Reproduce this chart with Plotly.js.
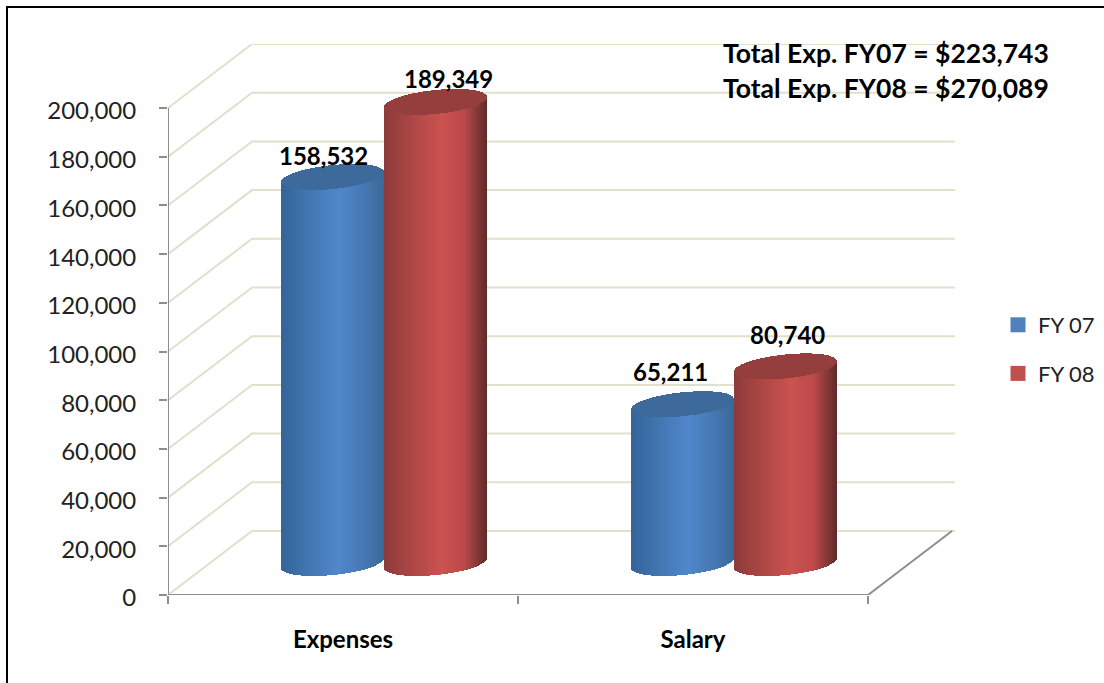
<!DOCTYPE html>
<html>
<head>
<meta charset="utf-8">
<script src="https://cdn.plot.ly/plotly-3.0.1.min.js"></script>
<style>
html,body{margin:0;padding:0;background:#fff;width:1104px;height:683px;overflow:hidden}
#frame{position:absolute;left:6px;top:6px;right:0;bottom:0;border-left:2.5px solid #000;border-top:2.5px solid #000}
#chart{position:absolute;left:0;top:0;width:1104px;height:683px}
</style>
</head>
<body>
<div id="frame"></div>
<div id="chart"></div>
<script>
var categories = ['Expenses', 'Salary'];
var seriesNames = ['FY 07', 'FY 08'];
var fy07 = [158532, 65211];
var fy08 = [189349, 80740];
var yTicks = [0, 20000, 40000, 60000, 80000, 100000, 120000, 140000, 160000, 180000, 200000];
var notes = ['Total Exp. FY07 = $223,743', 'Total Exp. FY08 = $270,089'];

var W = 1104, H = 683;
var M = {l: 168, r: 149, t: 44, b: 88, autoexpand: false};
var pxX = 350;                    // pixels per category
var pxY = 487 / 200000;           // pixels per unit of value
var yMax = (H - M.t - M.b) / pxY;
var xMax = (W - M.l - M.r) / pxX;
var depthX = 84 / pxX, depthY = 64 / pxY;
var halfW = 51.5 / pxX, capB = 12 / pxY, capT = 5 / pxY, centreNudge = -0.7 / pxX;
var FONT = 'Lato, "Open Sans", sans-serif';
var GRID = '#e2dfcb', AXIS = '#8e8e8e';

var palette = {
  blue: {stops: [[-1,[52,100,152]],[-0.5,[64,117,176]],[0.1,[80,135,204]],[0.6,[70,120,180]],[1,[58,104,152]]], cap: '#3d6a9b', key: '#4f81bd'},
  red:  {stops: [[-1,[140,58,58]],[-0.5,[170,70,68]],[0.1,[203,82,80]],[0.55,[188,74,73]],[1,[94,42,42]]], cap: '#943f3d', key: '#c0504d'}
};
function shade(stops, u) {
  for (var i = 1; i < stops.length; i++) {
    if (u <= stops[i][0]) {
      var a = stops[i-1], b = stops[i], f = (u - a[0]) / (b[0] - a[0]);
      return 'rgb(' + [0,1,2].map(function (k) { return Math.round(a[1][k] + (b[1][k] - a[1][k]) * f); }).join(',') + ')';
    }
  }
  return 'rgb(' + stops[stops.length-1][1].join(',') + ')';
}

// Each cylinder is a fan of thin bars: body slices and cap slices, all computed from the value.
function cylinder(catIndex, side, value, pal) {
  var N = 104, cx = catIndex + 0.5 + depthX / 2 + centreNudge + side * halfW;
  var mid = depthY / 2;
  var xs = [], base = [], top = [], col = [], cBase = [], cTop = [], w = 2 * halfW / N * 1.25;
  for (var i = 0; i < N; i++) {
    var u = (i + 0.5) / N * 2 - 1, r = Math.sqrt(1 - u * u), tilt = capT * u;
    xs.push(cx + u * halfW);
    var low = mid + tilt - capB * r;
    var capLow = value + mid + tilt - capB * r;
    var capHigh = value + mid + tilt + capB * r;
    base.push(low); top.push(capLow - low); col.push(shade(pal.stops, u));
    cBase.push(capLow); cTop.push(capHigh - capLow);
  }
  var common = {type: 'bar', x: xs, width: w, xaxis: 'x2', yaxis: 'y2', showlegend: false, hoverinfo: 'skip'};
  return [
    Object.assign({}, common, {base: base, y: top, marker: {color: col, line: {width: 0}}}),
    Object.assign({}, common, {base: cBase, y: cTop, marker: {color: pal.cap, line: {width: 0}}})
  ];
}

var traces = [];

// walls: one trace per gridline, running from the axis back along the side wall and across the back
yTicks.forEach(function (v) {
  traces.push({type: 'scatter', mode: 'lines', x: [0, depthX, xMax], y: [v, v + depthY, v + depthY],
    line: {color: GRID, width: 2}, cliponaxis: false, showlegend: false, hoverinfo: 'skip'});
});
// axis lines
traces.push({type: 'scatter', mode: 'lines', x: [0, 0], y: [0, 200000],
  line: {color: AXIS, width: 2}, cliponaxis: false, showlegend: false, hoverinfo: 'skip'});
traces.push({type: 'scatter', mode: 'lines', x: [0, 2, 2 + depthX], y: [0, 0, depthY],
  line: {color: AXIS, width: 2}, cliponaxis: false, showlegend: false, hoverinfo: 'skip'});

categories.forEach(function (c, i) {
  traces = traces.concat(cylinder(i, -1, fy07[i], palette.blue));
  traces = traces.concat(cylinder(i, 1, fy08[i], palette.red));
});

// legend keys
seriesNames.forEach(function (n, i) {
  traces.push({type: 'scatter', mode: 'markers', x: [null], y: [null], name: n, legendgroup: n,
    marker: {symbol: 'square', size: 15, color: i ? palette.red.key : palette.blue.key, line: {width: 0}}});
});

// value labels sit where they were placed by hand in the original, slightly off the bar centres
var labelShiftX = [[-10, 12], [-13, 1]];
var labelShiftY = [[21, 23], [33, 32]];
var annotations = [];
categories.forEach(function (c, i) {
  [fy07[i], fy08[i]].forEach(function (v, s) {
    annotations.push({
      x: i + 0.5 + depthX / 2 + (s ? 1 : -1) * halfW, y: v + depthY / 2, xref: 'x', yref: 'y',
      text: '<b>' + v.toLocaleString('en-US') + '</b>', showarrow: false,
      xshift: labelShiftX[i][s], yshift: labelShiftY[i][s],
      font: {family: FONT, size: 24, color: '#000'}
    });
  });
});
notes.forEach(function (t, i) {
  annotations.push({
    x: (721 - M.l) / (W - M.l - M.r), y: 1 - (53 + i * 35 - M.t) / (H - M.t - M.b),
    xref: 'paper', yref: 'paper', xanchor: 'left', yanchor: 'middle',
    text: '<b>' + t + '</b>', showarrow: false, font: {family: FONT, size: 26.5, color: '#000'}
  });
});

var layout = {
  width: W, height: H,
  margin: M,
  paper_bgcolor: 'rgba(0,0,0,0)', plot_bgcolor: 'rgba(0,0,0,0)',
  barmode: 'overlay', bargap: 0,
  font: {family: FONT, color: '#222', size: 24},
  hovermode: false,
  xaxis: {
    range: [0, xMax], showgrid: false, zeroline: false, showline: false,
    tickmode: 'array', tickvals: [0.5, 1.5], ticktext: categories.map(function (c) { return '<b>' + c + '</b>'; }),
    ticks: '', ticklabelstandoff: 28, tickfont: {family: FONT, size: 24, color: '#000'},
    minor: {tickmode: 'array', tickvals: [0, 1, 2], ticks: 'outside', ticklen: 8, tickwidth: 2, tickcolor: AXIS, showgrid: false}
  },
  yaxis: {
    range: [0, yMax], showgrid: false, zeroline: false, showline: false,
    tickmode: 'array', tickvals: yTicks, tickformat: ',', ticks: 'outside', ticklen: 8, tickwidth: 2, tickcolor: AXIS,
    ticklabelstandoff: 18, ticklabelshift: 3, tickfont: {family: FONT, size: 24, color: '#222'}
  },
  xaxis2: {range: [0, xMax], overlaying: 'x', visible: false},
  yaxis2: {range: [0, yMax], overlaying: 'y', visible: false},
  legend: {
    x: (998 - M.l) / (W - M.l - M.r), y: 1 - (304 - M.t) / (H - M.t - M.b), xanchor: 'left', yanchor: 'top',
    bgcolor: 'rgba(0,0,0,0)', font: {family: FONT, size: 22, color: '#222'}, tracegroupgap: 17, itemwidth: 30
  },
  annotations: annotations
};

Plotly.newPlot('chart', traces, layout, {displayModeBar: false, staticPlot: true});
</script>
</body>
</html>
